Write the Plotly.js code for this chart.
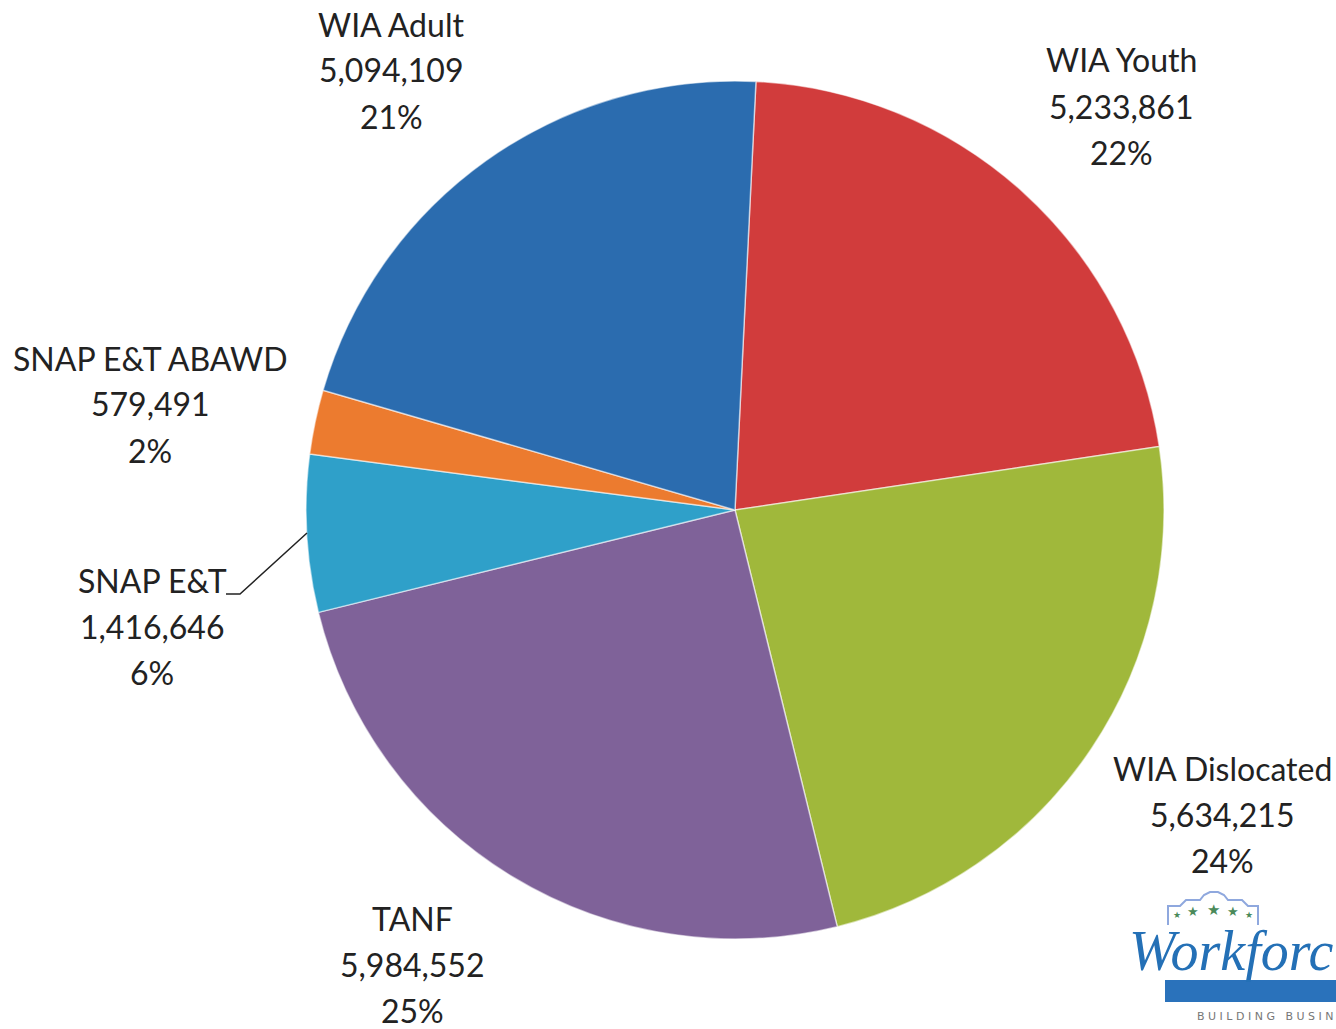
<!DOCTYPE html>
<html><head><meta charset="utf-8">
<script src="https://cdn.plot.ly/plotly-3.0.1.min.js"></script>
<style>html,body{margin:0;padding:0;background:#fff}</style>
</head><body><div id="chart" style="width:1336px;height:1029px"></div>
<script>
// Data
const categories = ["WIA Youth", "WIA Dislocated", "TANF", "SNAP E&T", "SNAP E&T ABAWD", "WIA Adult"];
const amounts = [5233861, 5634215, 5984552, 1416646, 579491, 5094109];
const percentLabels = ["22%", "24%", "25%", "6%", "2%", "21%"];
const colors = ["#d13c3c", "#a0b83b", "#7f6299", "#2fa0c9", "#ec7b2f", "#2b6caf"];
const logoTitle = "Workforc";
const logoTagline = "BUILDING BUSIN";

const W = 1336, H = 1029;
const px = x => x / W, py = y => 1 - y / H;
const fmt = n => n.toLocaleString("en-US");

// label placement (centre x, first-line y) in pixels
const labelPos = [
  [1121, 60], [1222, 768], [412, 918], [152, 580], [150, 358], [391, 24]
];
const lineGap = 46;
const font = {family: "Lato, 'Open Sans', sans-serif", size: 32, color: "#222"};

const annotations = [];
categories.forEach((c, i) => {
  const lines = [c, fmt(amounts[i]), percentLabels[i]];
  lines.forEach((t, k) => {
    annotations.push({
      text: t, showarrow: false, xref: "paper", yref: "paper",
      x: px(labelPos[i][0]), y: py(labelPos[i][1] + k * lineGap),
      xanchor: "center", yanchor: "middle", font: font
    });
  });
});

// Logo
annotations.push({text: "<i>" + logoTitle + "</i>", showarrow: false, xref: "paper", yref: "paper",
  x: px(1335), y: py(951), xanchor: "right", yanchor: "middle",
  font: {family: "'Liberation Serif', serif", size: 56, color: "#2470b6"}});
annotations.push({text: logoTagline.split("").join(" "), showarrow: false, xref: "paper", yref: "paper",
  x: px(1335), y: py(1016), xanchor: "right", yanchor: "middle",
  font: {family: "'DejaVu Sans', sans-serif", size: 11, color: "#777"}});
[[1177, 914, 9], [1193, 911, 13], [1213, 909, 15], [1233, 911, 13], [1249, 914, 9]].forEach(s => {
  annotations.push({text: "★", showarrow: false, xref: "paper", yref: "paper",
    x: px(s[0]), y: py(s[1]), xanchor: "center", yanchor: "middle",
    font: {size: s[2], color: "#4a8a5a"}});
});

const shapes = [
  // leader line for SNAP E&T
  {type: "path", xref: "paper", yref: "paper",
   path: `M ${px(226)} ${py(594)} L ${px(240)} ${py(594)} L ${px(307)} ${py(533)}`,
   line: {color: "#222", width: 1.5}},
  // logo bar
  {type: "rect", xref: "paper", yref: "paper", x0: px(1165), x1: px(1340), y0: py(1002), y1: py(980),
   fillcolor: "#2a72bb", line: {width: 0}},
  // logo roof outline
  {type: "path", xref: "paper", yref: "paper",
   path: `M ${px(1168)} ${py(925)} L ${px(1168)} ${py(906)} L ${px(1180)} ${py(906)} L ${px(1186)} ${py(900)} L ${px(1200)} ${py(900)} L ${px(1204)} ${py(895)} L ${px(1210)} ${py(892)} L ${px(1218)} ${py(892)} L ${px(1224)} ${py(895)} L ${px(1228)} ${py(900)} L ${px(1242)} ${py(900)} L ${px(1248)} ${py(906)} L ${px(1258)} ${py(906)} L ${px(1258)} ${py(925)}`,
   line: {color: "#8fa8de", width: 2}}
];

const trace = {
  type: "pie",
  labels: categories, values: amounts,
  sort: false, direction: "clockwise", rotation: 2.8,
  marker: {colors: colors, line: {color: "rgba(255,255,255,0.55)", width: 1.5}},
  textinfo: "none", hoverinfo: "label+value+percent",
  domain: {x: [px(306), px(1164)], y: [py(940), py(80)]},
  showlegend: false
};

Plotly.newPlot("chart", [trace], {
  width: W, height: H, margin: {l: 0, r: 0, t: 0, b: 0},
  paper_bgcolor: "#fff", showlegend: false,
  annotations: annotations, shapes: shapes
}, {displayModeBar: false});
</script></body></html>
